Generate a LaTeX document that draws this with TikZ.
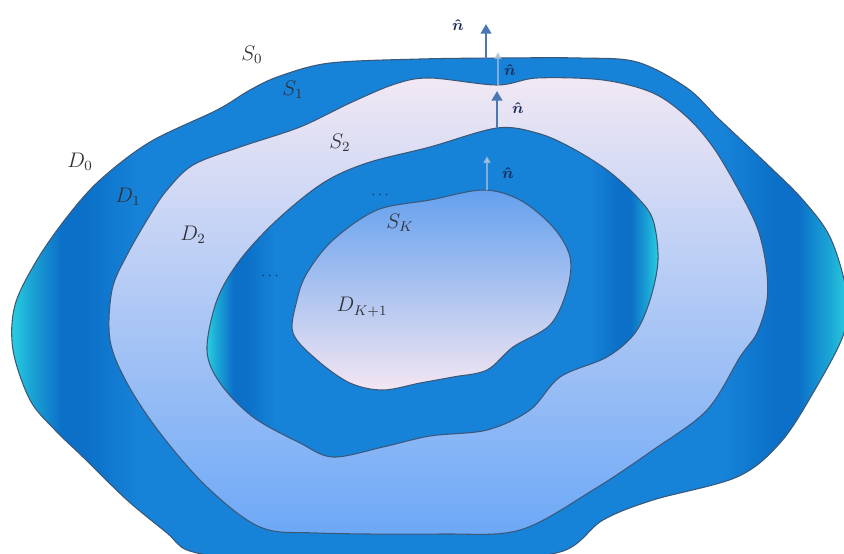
\documentclass[tikz,border=0pt]{standalone}
\usepackage{xcolor}
\usepackage{tikz}
\usetikzlibrary{arrows.meta}
\definecolor{bandblue}{RGB}{22,130,216}
\definecolor{banddeep}{RGB}{12,112,200}
\definecolor{bandcyan}{RGB}{40,208,224}
\definecolor{paletop}{RGB}{241,232,244}
\definecolor{palebot}{RGB}{108,168,246}
\definecolor{coretop}{RGB}{100,160,238}
\definecolor{corebot}{RGB}{243,230,242}
\definecolor{rimline}{RGB}{60,88,120}
\definecolor{normalblue}{RGB}{74,120,180}
\definecolor{labelgrey}{RGB}{50,50,55}
\definecolor{hatnavy}{RGB}{28,44,90}
\pgfdeclarehorizontalshading{bandshade}{100bp}{color(0bp)=(bandcyan); color(25bp)=(bandcyan); color(26.2bp)=(bandcyan!55!banddeep); color(28bp)=(banddeep); color(29.5bp)=(banddeep); color(32.5bp)=(bandblue); color(67.5bp)=(bandblue); color(70.5bp)=(banddeep); color(72bp)=(banddeep); color(73.8bp)=(bandcyan!55!banddeep); color(75bp)=(bandcyan); color(100bp)=(bandcyan)}

\begin{document}
\begin{tikzpicture}[x=0.2mm, y=-0.2mm,
    rim/.style={draw=rimline, line width=0.6pt},
    band/.style={rim, shading=bandshade},
    pale/.style={rim, top color=paletop, bottom color=palebot},
    core/.style={rim, top color=coretop, bottom color=corebot},
    lbl/.style={text=labelgrey, font=\large},
    hat/.style={text=hatnavy, font=\small\boldmath},
    dotlbl/.style={text=hatnavy, font=\footnotesize},
    normalarrow/.style={-{Triangle[width=6pt,length=5.5pt]}, line width=1.6pt, draw=normalblue},
    ghostarrow/.style={-{Triangle[width=4pt,length=4pt]}, line width=1pt, draw=normalblue!45!white, draw opacity=0.7}
]
\useasboundingbox (0,0) rectangle (844,553);
\clip (0,0) rectangle (844,553);
\fill[white] (0,0) rectangle (844,553);

\draw[band] plot[smooth cycle, tension=0.55] coordinates {
    (330,63) (420,59) (500,58) (580,58) (637,62) (687,88) (720,120)
    (770,167) (803,200) (830,237) (846,290) (844,333) (813,393) (780,443)
    (737,477) (653,500) (603,520) (560,552) (460,560) (330,560) (230,557)
    (187,550) (167,533) (127,500) (83,457) (55,430) (30,400) (13,350)
    (15,305) (37,260) (67,217) (100,180) (150,142) (217,110) (250,90) (280,76)};
\draw[pale] plot[smooth cycle, tension=0.55] coordinates {
    (430,78) (497,85) (537,78) (603,80) (653,93) (687,117) (713,147)
    (737,187) (757,227) (766,265) (767,300) (757,333) (740,357) (707,410)
    (653,450) (593,490) (520,530) (440,534) (317,533) (260,527) (207,487)
    (160,433) (127,383) (110,340) (112,290) (127,255) (150,215) (167,190)
    (193,165) (240,147) (300,127) (350,103) (395,84)};
\draw[band] plot[smooth cycle, tension=0.55] coordinates {
    (430,147) (497,128) (537,133) (570,147) (607,170) (637,197) (653,220)
    (658,260) (650,300) (635,333) (607,357) (560,377) (530,410) (487,430)
    (430,436) (383,447) (333,457) (300,443) (253,417) (220,383) (207,350)
    (217,300) (240,260) (277,220) (323,183) (367,163)};
\draw[core] plot[smooth cycle, tension=0.55] coordinates {
    (430,200) (483,190) (520,200) (553,227) (570,257) (567,290) (550,325)
    (513,347) (487,370) (453,377) (420,383) (383,390) (350,383) (317,360)
    (293,333) (297,300) (307,273) (333,240) (377,210)};

\coordinate (s0top) at (486,59);
\coordinate (n0tip) at (486,24);
\coordinate (s1top) at (498,86);
\coordinate (n1tip) at (498,52);
\coordinate (s2top) at (497,128);
\coordinate (n2tip) at (497,91);
\coordinate (sktop) at (487,190);
\coordinate (nktip) at (487,156);
\draw[normalarrow] (s0top) -- (n0tip);
\draw[ghostarrow] (s1top) -- (n1tip);
\draw[normalarrow] (s2top) -- (n2tip);
\draw[ghostarrow] (sktop) -- (nktip);

\node (hat0) at (458,25) [hat] {$\hat{n}$};
\node (hat1) at (510,70) [hat] {$\hat{n}$};
\node (hat2) at (518,108) [hat] {$\hat{n}$};
\node (hatk) at (508,173) [hat] {$\hat{n}$};

\node (S0) at (252,55) [lbl] {$S_0$};
\node (S1) at (293,90) [lbl] {$S_1$};
\node (S2) at (340,143) [lbl] {$S_2$};
\node (SK) at (400,223) [lbl] {$S_K$};
\node (D0) at (80,162) [lbl] {$D_0$};
\node (D1) at (128,197) [lbl] {$D_1$};
\node (D2) at (193,235) [lbl] {$D_2$};
\node (DK) at (362,307) [lbl] {$D_{K+1}$};
\node (dotsa) at (380,195) [dotlbl] {$\cdots$};
\node (dotsb) at (270,276) [dotlbl] {$\cdots$};
\end{tikzpicture}
\end{document}
